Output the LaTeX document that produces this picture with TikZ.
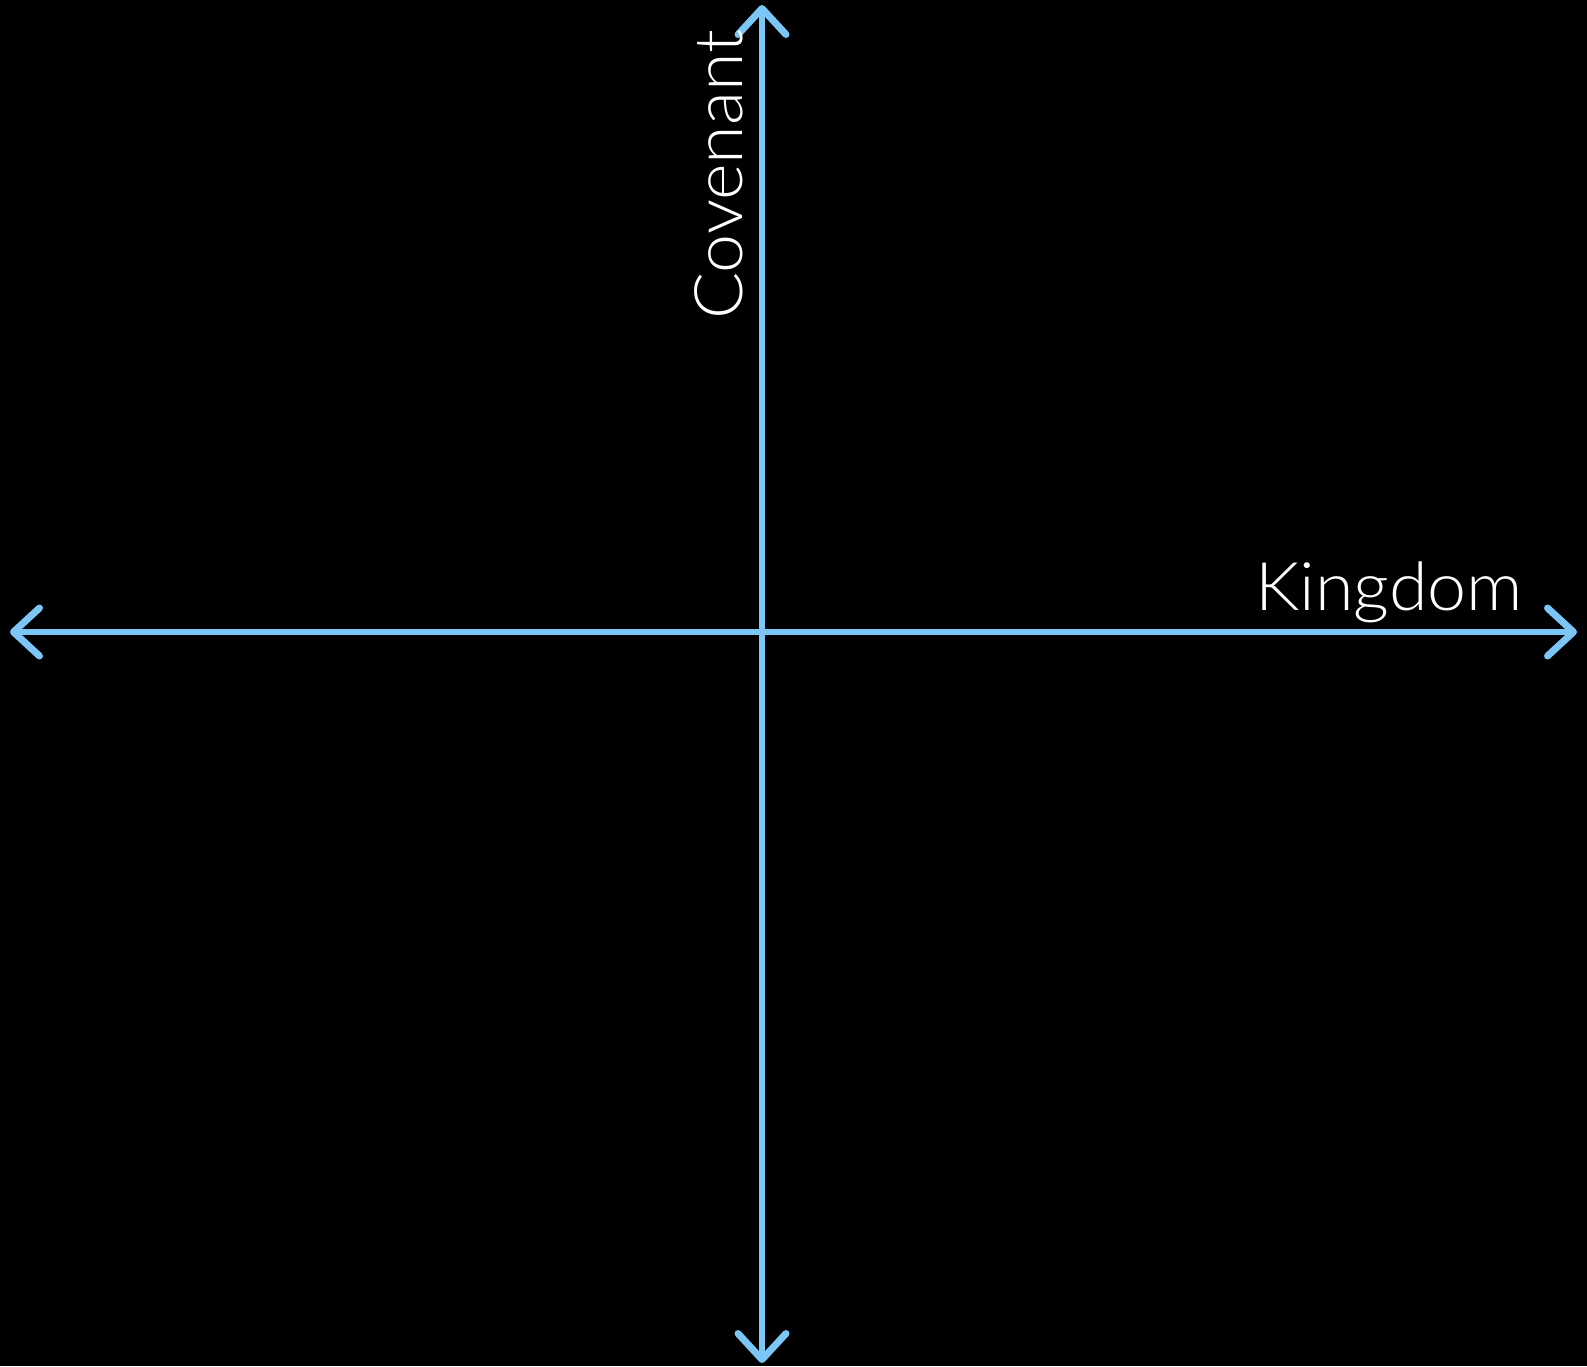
\documentclass[tikz,border=0pt]{standalone}
\usepackage{fontspec}
\setmainfont{Lato}[UprightFont={* Light}]
\usetikzlibrary{arrows.meta}
\definecolor{axisblue}{HTML}{7CC6F6}
\tikzset{
  barb/.tip={Straight Barb[length=26pt,width=48pt,line width=7pt,line cap=round,line join=round]},
  axis/.style={draw=axisblue, line width=5.5pt, line cap=round, barb-barb},
  label/.style={text=white, font=\fontsize{67}{67}\selectfont, inner sep=0pt}
}
\begin{document}
\begin{tikzpicture}[x=1pt,y=1pt]
\fill[black] (0,0) rectangle (1587,-1366);
\useasboundingbox (0,0) rectangle (1587,-1366);
\coordinate (L) at (10,-632);
\coordinate (R) at (1577,-632);
\coordinate (T) at (762,-5);
\coordinate (B) at (762,-1363);
\draw[axis] (L) -- (R);
\draw[axis] (B) -- (T);
\node[label, anchor=base west] (kingdom) at (1255,-610) {\scalebox{1.045}[1]{Kingdom}};
\node[label, anchor=base west, rotate=90] (covenant) at (742,-320) {\scalebox{1.045}[1]{Covenant}};
\end{tikzpicture}
\end{document}
